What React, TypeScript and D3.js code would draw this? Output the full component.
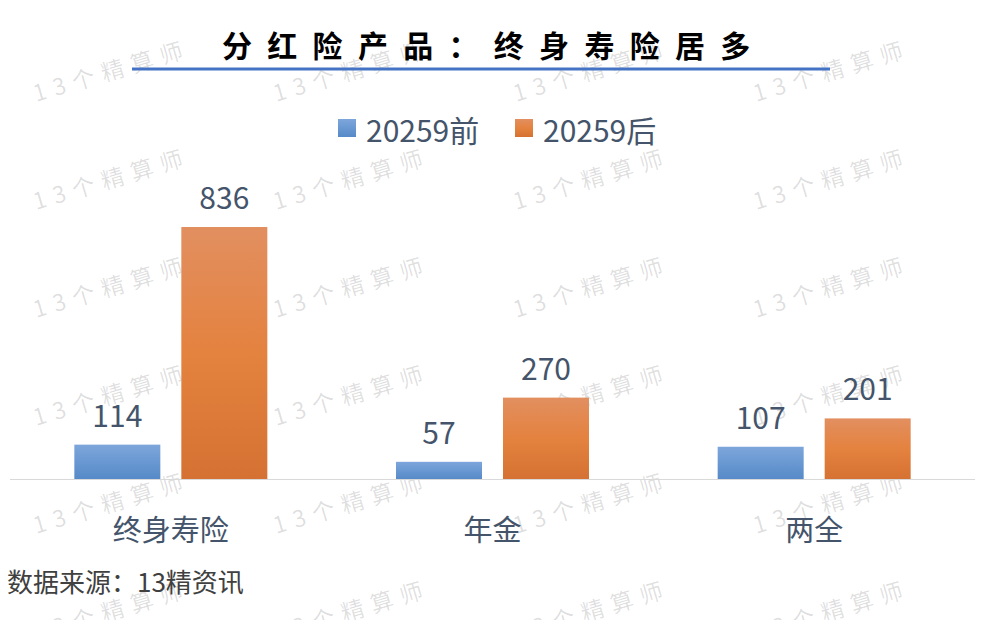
import React from "react";
import * as d3 from "d3";

const categories = ["终身寿险", "年金", "两全"];
const seriesNames = ["20259前", "20259后"];
const before = [114, 57, 107];
const after = [836, 270, 201];
const title = "分红险产品：终身寿险居多";
const source = "数据来源：13精资讯";

const W = 988;
const H = 620;
const FONT = "'Noto Sans CJK SC', 'Noto Sans', sans-serif";

export default function App() {
  const plotLeft = 10;
  const plotRight = 975;
  const baseY = 479;
  const x0 = d3.scaleBand<string>().domain(categories).range([plotLeft, plotRight]).paddingInner(0).paddingOuter(0);
  const y = d3.scaleLinear().domain([0, 836]).range([baseY, 227]);
  const barW = 86;
  const gap = 21;
  const values = [before, after];
  const grads = ["gBlue", "gOrange"];

  const wm: { x: number; y: number }[] = [];
  for (let r = 0; r < 6; r++) {
    for (let c = 0; c < 4; c++) {
      wm.push({ x: 36 + c * 240, y: 102 + r * 108 });
    }
  }

  return (
    <svg width={W} height={H} style={{ position: "absolute", left: 0, top: 0, background: "#fff" }} fontFamily={FONT}>
      <defs>
        <linearGradient id="gBlue" x1="0" y1="0" x2="0" y2="1">
          <stop offset="0" stopColor="#7DA6DB" />
          <stop offset="1" stopColor="#568AC8" />
        </linearGradient>
        <linearGradient id="gOrange" x1="0" y1="0" x2="0" y2="1">
          <stop offset="0" stopColor="#E28F60" />
          <stop offset="0.5" stopColor="#E4823F" />
          <stop offset="1" stopColor="#D57233" />
        </linearGradient>
      </defs>
      <rect x={0} y={0} width={W} height={H} fill="#fff" />

      {/* watermark */}
      {wm.map((p, i) => (
        <text
          key={i}
          x={p.x}
          y={p.y}
          fontSize={23}
          fill="#000"
          fillOpacity={0.13}
          letterSpacing={7.5}
          transform={`rotate(-16.5 ${p.x} ${p.y})`}
        >
          13个精算师
        </text>
      ))}

      {/* title */}
      <text x={222} y={57} fontSize={30} fontWeight={700} fill="#000" letterSpacing={15.3}>
        {title}
      </text>
      <line x1={132} x2={830} y1={69} y2={69} stroke="#4472C4" strokeWidth={3} />

      {/* legend */}
      {seriesNames.map((s, i) => {
        const lx = i === 0 ? 338 : 515;
        return (
          <g key={s}>
            <rect x={lx} y={119} width={18} height={18} fill={`url(#${grads[i]})`} />
            <text x={lx + 28} y={141.5} fontSize={30} fill="#44546A">
              {s}
            </text>
          </g>
        );
      })}

      {/* axis line */}
      <line x1={plotLeft} x2={plotRight} y1={baseY + 0.5} y2={baseY + 0.5} stroke="#D9D9D9" strokeWidth={1} />

      {/* bars */}
      {categories.map((cat, ci) => {
        const center = (x0(cat) as number) + x0.bandwidth() / 2;
        return (
          <g key={cat}>
            {values.map((vals, si) => {
              const bx = si === 0 ? center - gap / 2 - barW : center + gap / 2;
              const v = vals[ci];
              return (
                <g key={si}>
                  <rect x={bx} y={y(v)} width={barW} height={baseY - y(v)} fill={`url(#${grads[si]})`} />
                  <text x={bx + barW / 2} y={y(v) - 18} textAnchor="middle" fontSize={30} fill="#44546A">
                    {v}
                  </text>
                </g>
              );
            })}
            <text x={center} y={541} textAnchor="middle" fontSize={29} fill="#44546A">
              {cat}
            </text>
          </g>
        );
      })}

      {/* source */}
      <text x={7} y={592} fontSize={26} fill="#404040">
        {source}
      </text>
    </svg>
  );
}
